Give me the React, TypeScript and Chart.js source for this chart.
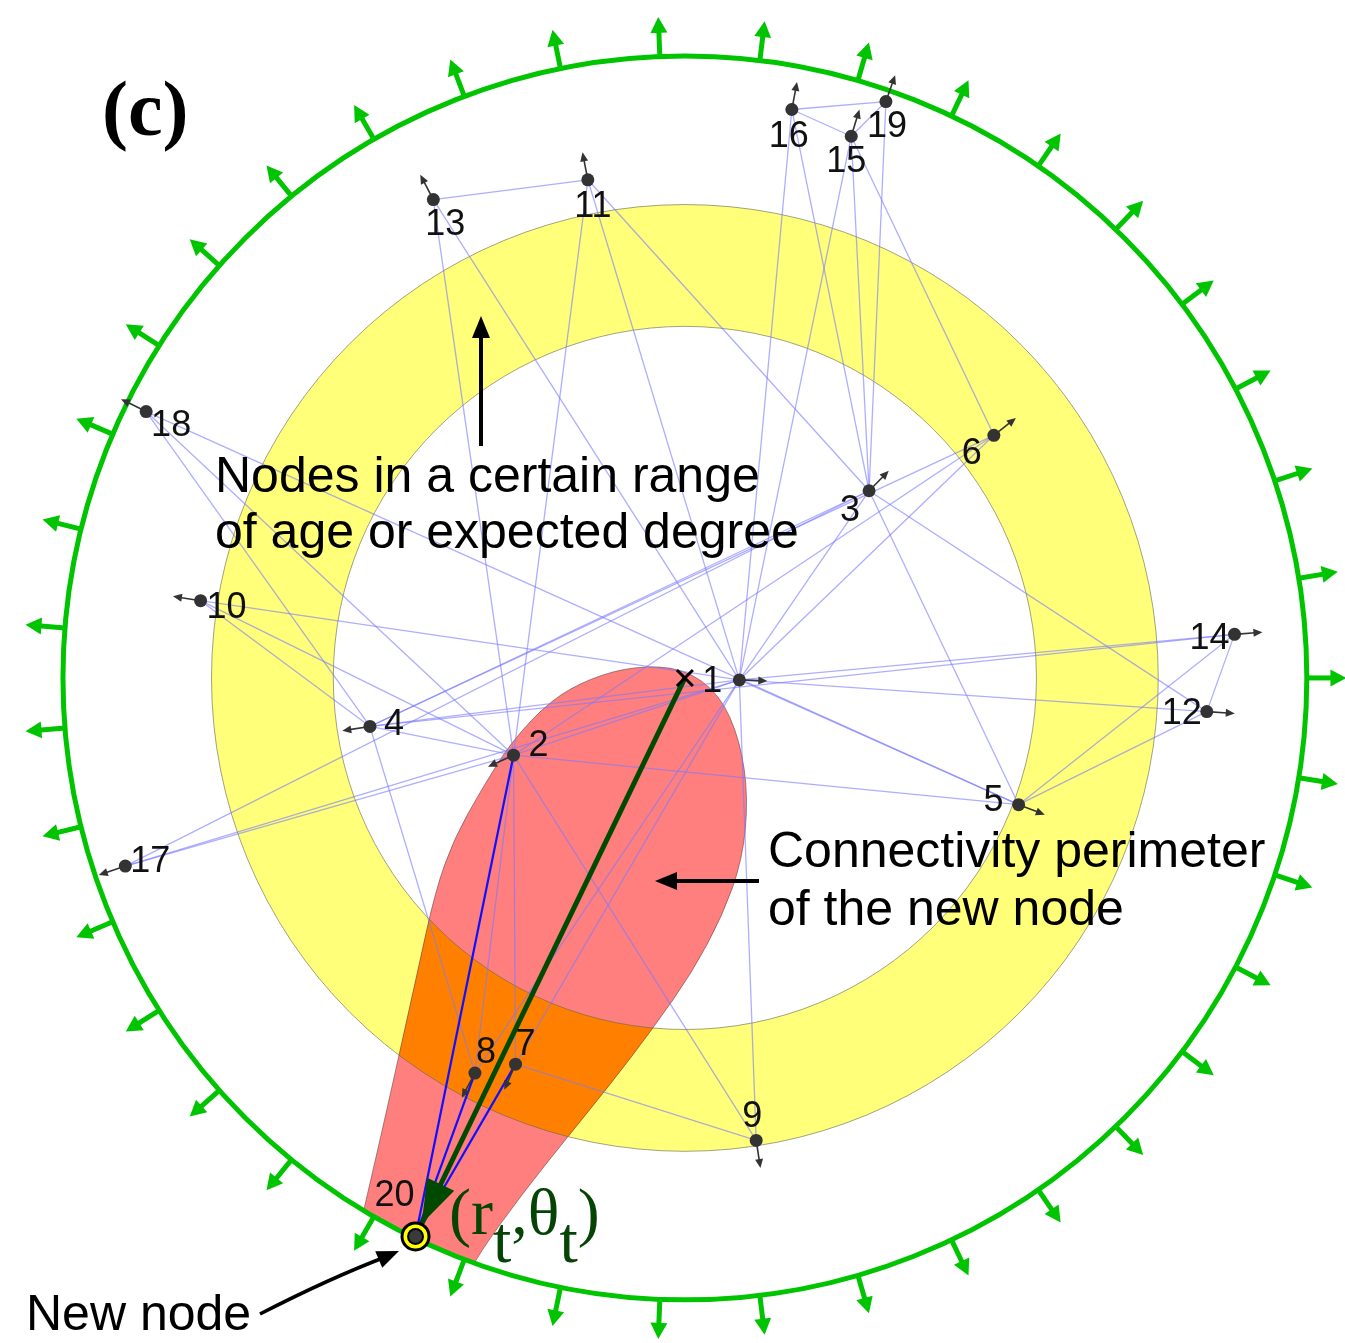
import React, { useEffect, useRef } from "react";
import { Chart, registerables } from "chart.js";

Chart.register(...registerables);

// ---------------- data ----------------
const nodeIds = [1, 2, 3, 4, 5, 6, 7, 8, 9, 10, 11, 12, 13, 14, 15, 16, 17, 18, 19, 20];
const nodeX = [740, 512, 871, 367, 1022, 997, 514, 473, 757, 196, 587, 1212, 431, 1240, 853, 793, 120, 141, 888, 413];
const nodeY = [680, 756, 489, 727, 806, 433, 1068, 1077, 1145, 600, 175, 712, 195, 634, 131, 104, 868, 409, 96, 1242];

const edgeFrom = [13, 16, 16, 15, 14, 5, 5, 17, 17, 17, 10, 10, 10, 18, 18, 18, 13, 13, 11, 11, 11, 16, 16, 15, 15, 19, 15, 3, 3, 1, 1, 1, 1, 1, 1, 1, 1, 4, 4, 4, 4, 4, 4, 2, 2, 2, 2, 2, 2, 7];
const edgeTo = [11, 19, 15, 19, 12, 14, 12, 2, 1, 3, 1, 2, 4, 5, 2, 4, 2, 1, 2, 1, 3, 1, 3, 1, 3, 3, 6, 5, 12, 14, 12, 5, 9, 7, 8, 3, 6, 1, 2, 14, 6, 3, 8, 1, 5, 6, 9, 7, 8, 9];

const newNodeId = 20;
const newNodeLinks = [2, 8, 7];
const projX = [685];
const projY = [678];

// hyperbolic disk and the ring of nodes of similar age
const diskCenterX = 685;
const diskCenterY = 678;
const diskRadius = 628;
const ringInner = 355;
const ringOuter = 478;
const boundaryArrowCount = 39;

// outline of the connectivity perimeter of the new node
const perimX = [350, 362, 380, 397, 415, 433, 452, 480, 510, 550, 590, 635, 683, 720, 741, 749, 743, 723, 692, 652, 610, 567, 520, 478, 460, 420, 370];
const perimY = [1262, 1210, 1132, 1056, 975, 893, 840, 790, 742, 700, 678, 666, 668, 694, 742, 800, 862, 918, 976, 1033, 1088, 1141, 1200, 1258, 1292, 1302, 1292];

// ---------------- helpers ----------------
const SANS = '"Liberation Sans", Arial, Helvetica, sans-serif';
const SERIF = '"Liberation Serif", "Times New Roman", serif';

const labelOffset: Record<number, [number, number]> = {
  1: [-27, 0], 2: [25, -11], 3: [-19, 18], 4: [24, -3], 5: [-25, -6], 6: [-22, 17],
  7: [10, -21], 8: [11, -22], 9: [-4, -25], 10: [26, 5], 11: [5, 25], 12: [-25, 0],
  13: [12, 23], 14: [-25, 3], 15: [-5, 24], 16: [-3, 26], 17: [25, -6], 18: [25, 13],
  19: [1, 24], 20: [-21, -42],
};

function pos(id: number) {
  const i = nodeIds.indexOf(id);
  return { x: nodeX[i], y: nodeY[i] };
}

function arrowHead(ctx: CanvasRenderingContext2D, tx: number, ty: number, ux: number, uy: number, len: number, half: number, color: string) {
  const bx = tx - ux * len, by = ty - uy * len;
  ctx.beginPath();
  ctx.moveTo(tx, ty);
  ctx.lineTo(bx - uy * half, by + ux * half);
  ctx.lineTo(bx + uy * half, by - ux * half);
  ctx.closePath();
  ctx.fillStyle = color;
  ctx.fill();
}

function arrow(ctx: CanvasRenderingContext2D, x0: number, y0: number, x1: number, y1: number, width: number, len: number, half: number, color: string) {
  const d = Math.hypot(x1 - x0, y1 - y0);
  const ux = (x1 - x0) / d, uy = (y1 - y0) / d;
  ctx.beginPath();
  ctx.moveTo(x0, y0);
  ctx.lineTo(x1 - ux * len * 0.8, y1 - uy * len * 0.8);
  ctx.strokeStyle = color;
  ctx.lineWidth = width;
  ctx.lineCap = "butt";
  ctx.stroke();
  arrowHead(ctx, x1, y1, ux, uy, len, half, color);
}

function perimeterPath(ctx: CanvasRenderingContext2D, X: (v: number) => number, Y: (v: number) => number) {
  const pts = perimX.map((x, i) => [X(x), Y(perimY[i])]);
  const n = pts.length;
  const mid = (a: number[], b: number[]) => [(a[0] + b[0]) / 2, (a[1] + b[1]) / 2];
  ctx.beginPath();
  const m0 = mid(pts[n - 1], pts[0]);
  ctx.moveTo(m0[0], m0[1]);
  for (let i = 0; i < n; i++) {
    const p = pts[i];
    const m = mid(p, pts[(i + 1) % n]);
    ctx.quadraticCurveTo(p[0], p[1], m[0], m[1]);
  }
  ctx.closePath();
}

const backgroundPlugin = {
  id: "diskBackground",
  beforeDatasetsDraw(chart: any) {
    const ctx: CanvasRenderingContext2D = chart.ctx;
    const X = (v: number) => chart.scales.x.getPixelForValue(v);
    const Y = (v: number) => chart.scales.y.getPixelForValue(v);
    const k = Math.abs(X(1) - X(0));
    const cx = X(diskCenterX), cy = Y(diskCenterY);
    ctx.save();

    // yellow ring
    ctx.beginPath();
    ctx.arc(cx, cy, ringOuter * k, 0, Math.PI * 2);
    ctx.arc(cx, cy, ringInner * k, 0, Math.PI * 2, true);
    ctx.fillStyle = "#ffff7a";
    ctx.fill("evenodd");

    // red connectivity perimeter clipped by disk
    ctx.save();
    ctx.beginPath();
    ctx.arc(cx, cy, diskRadius * k + 1, 0, Math.PI * 2);
    ctx.clip();
    perimeterPath(ctx, X, Y);
    ctx.fillStyle = "#ff7f7f";
    ctx.fill();
    ctx.clip();
    ctx.beginPath();
    ctx.arc(cx, cy, ringOuter * k, 0, Math.PI * 2);
    ctx.arc(cx, cy, ringInner * k, 0, Math.PI * 2, true);
    ctx.fillStyle = "#ff8000";
    ctx.fill("evenodd");
    ctx.restore();

    // outlines
    ctx.save();
    ctx.beginPath();
    ctx.arc(cx, cy, diskRadius * k, 0, Math.PI * 2);
    ctx.clip();
    perimeterPath(ctx, X, Y);
    ctx.strokeStyle = "rgba(90,60,60,0.55)";
    ctx.lineWidth = 1;
    ctx.stroke();
    ctx.restore();
    ctx.strokeStyle = "rgba(100,100,80,0.6)";
    ctx.lineWidth = 1;
    ctx.beginPath();
    ctx.arc(cx, cy, ringOuter * k, 0, Math.PI * 2);
    ctx.stroke();
    ctx.beginPath();
    ctx.arc(cx, cy, ringInner * k, 0, Math.PI * 2);
    ctx.stroke();

    // disk boundary with outward arrows
    const green = "#00c400";
    ctx.beginPath();
    ctx.arc(cx, cy, diskRadius * k, 0, Math.PI * 2);
    ctx.strokeStyle = green;
    ctx.lineWidth = 5;
    ctx.stroke();
    for (let i = 0; i < boundaryArrowCount; i++) {
      const a = (i * 2 * Math.PI) / boundaryArrowCount;
      const ux = Math.cos(a), uy = -Math.sin(a);
      const r0 = diskRadius * k, r1 = (diskRadius + 40) * k;
      arrow(ctx, cx + ux * r0, cy + uy * r0, cx + ux * r1, cy + uy * r1, 5, 16, 8.5, green);
    }
    ctx.restore();
  },
};

const overlayPlugin = {
  id: "diskOverlay",
  afterDatasetsDraw(chart: any) {
    const ctx: CanvasRenderingContext2D = chart.ctx;
    const X = (v: number) => chart.scales.x.getPixelForValue(v);
    const Y = (v: number) => chart.scales.y.getPixelForValue(v);
    const cx = X(diskCenterX), cy = Y(diskCenterY);
    ctx.save();

    // small radial arrows of nodes
    nodeIds.forEach((id, i) => {
      if (id === newNodeId) return;
      const x = X(nodeX[i]), y = Y(nodeY[i]);
      const d = Math.hypot(x - cx, y - cy);
      const ux = (x - cx) / d, uy = (y - cy) / d;
      arrow(ctx, x, y, x + ux * 28, y + uy * 28, 1.6, 9, 4, "#333");
    });

    // projection cross
    const px = X(projX[0]), py = Y(projY[0]);
    ctx.strokeStyle = "#000";
    ctx.lineWidth = 3;
    ctx.beginPath();
    ctx.moveTo(px - 8, py - 8); ctx.lineTo(px + 8, py + 8);
    ctx.moveTo(px + 8, py - 8); ctx.lineTo(px - 8, py + 8);
    ctx.stroke();

    // green arrow head at the new node
    const nn = pos(newNodeId);
    const nx = X(nn.x), ny = Y(nn.y);
    {
      const d = Math.hypot(nx - px, ny - py);
      const ux = (nx - px) / d, uy = (ny - py) / d;
      arrowHead(ctx, nx - ux * 14, ny - uy * 14, ux, uy, 44, 15, "#004a00");
    }

    // new node marker
    ctx.beginPath(); ctx.arc(nx, ny, 15, 0, Math.PI * 2); ctx.fillStyle = "#000"; ctx.fill();
    ctx.beginPath(); ctx.arc(nx, ny, 12, 0, Math.PI * 2); ctx.fillStyle = "#ffff00"; ctx.fill();
    ctx.beginPath(); ctx.arc(nx, ny, 8.5, 0, Math.PI * 2); ctx.fillStyle = "#000"; ctx.fill();
    ctx.beginPath(); ctx.arc(nx, ny, 6.5, 0, Math.PI * 2); ctx.fillStyle = "#3a3a3a"; ctx.fill();

    // node labels
    ctx.fillStyle = "#111";
    ctx.font = `36px ${SANS}`;
    ctx.textAlign = "center";
    ctx.textBaseline = "middle";
    nodeIds.forEach((id, i) => {
      const o = labelOffset[id];
      ctx.fillText(String(id), X(nodeX[i]) + o[0], Y(nodeY[i]) + o[1] + 2);
    });

    // annotations
    ctx.textAlign = "left";
    ctx.textBaseline = "alphabetic";
    ctx.fillStyle = "#000";
    ctx.font = `50px ${SANS}`;
    ctx.fillText("Nodes in a certain range", 215, 492);
    ctx.fillText("of age or expected degree", 215, 548);
    ctx.fillText("Connectivity perimeter", 768, 867);
    ctx.fillText("of the new node", 768, 925);
    ctx.fillText("New node", 26, 1330);
    arrow(ctx, 481, 446, 481, 316, 4, 22, 9, "#000");
    arrow(ctx, 759, 881, 655, 881, 4, 22, 9, "#000");
    // curved pointer to the new node
    ctx.beginPath();
    ctx.moveTo(260, 1314);
    ctx.quadraticCurveTo(330, 1278, 388, 1256);
    ctx.strokeStyle = "#000";
    ctx.lineWidth = 3.5;
    ctx.stroke();
    {
      const ux = 398 - 372, uy = 1251 - 1262;
      const d = Math.hypot(ux, uy);
      arrowHead(ctx, 399, 1251, ux / d, uy / d, 22, 9, "#000");
    }

    ctx.font = `bold 78px ${SERIF}`;
    ctx.fillText("(c)", 102, 135);

    // (r_t, θ_t)
    ctx.fillStyle = "#064406";
    ctx.font = `66px ${SERIF}`;
    let x = 449;
    const base = 1234;
    const put = (t: string, dy: number) => { ctx.fillText(t, x, base + dy); x += ctx.measureText(t).width; };
    put("(r", 0);
    put("t", 28);
    put(",", 0);
    put("θ", 0);
    put("t", 28);
    put(")", 0);

    ctx.restore();
  },
};

export default function App() {
  const ref = useRef<HTMLCanvasElement | null>(null);
  useEffect(() => {
    if (!ref.current) return;
    const edgeSets = edgeFrom.map((f, i) => {
      const a = pos(f), b = pos(edgeTo[i]);
      return {
        data: [a, b],
        showLine: true,
        borderColor: "rgba(120,120,255,0.6)",
        borderWidth: 1.3,
        pointRadius: 0,
        order: 4,
      };
    });
    const nn = pos(newNodeId);
    const blueSets = newNodeLinks.map((id) => ({
      data: [pos(id), nn],
      showLine: true,
      borderColor: "#1010ff",
      borderWidth: 2.2,
      pointRadius: 0,
      order: 3,
    }));
    const greenSet = {
      data: [{ x: projX[0], y: projY[0] }, nn],
      showLine: true,
      borderColor: "#004a00",
      borderWidth: 5,
      pointRadius: 0,
      order: 2,
    };
    const nodeSet = {
      data: nodeIds.filter((id) => id !== newNodeId).map((id) => pos(id)),
      showLine: false,
      pointRadius: 6.5,
      pointBackgroundColor: "#333",
      pointBorderWidth: 0,
      order: 1,
    };
    const chart = new Chart(ref.current, {
      type: "scatter",
      data: { datasets: [nodeSet, greenSet, ...blueSets, ...edgeSets] as any },
      options: {
        animation: false,
        responsive: true,
        maintainAspectRatio: false,
        events: [],
        layout: { padding: 0 },
        plugins: { legend: { display: false }, tooltip: { enabled: false }, title: { display: false } },
        scales: {
          x: { type: "linear", min: 0, max: 1345, display: false },
          y: { type: "linear", min: 0, max: 1343, reverse: true, display: false },
        },
      },
      plugins: [backgroundPlugin, overlayPlugin],
    });
    return () => chart.destroy();
  }, []);
  return (
    <div style={{ position: "absolute", left: 0, top: 0, width: 1345, height: 1343, background: "#fff" }}>
      <canvas ref={ref} />
    </div>
  );
}
